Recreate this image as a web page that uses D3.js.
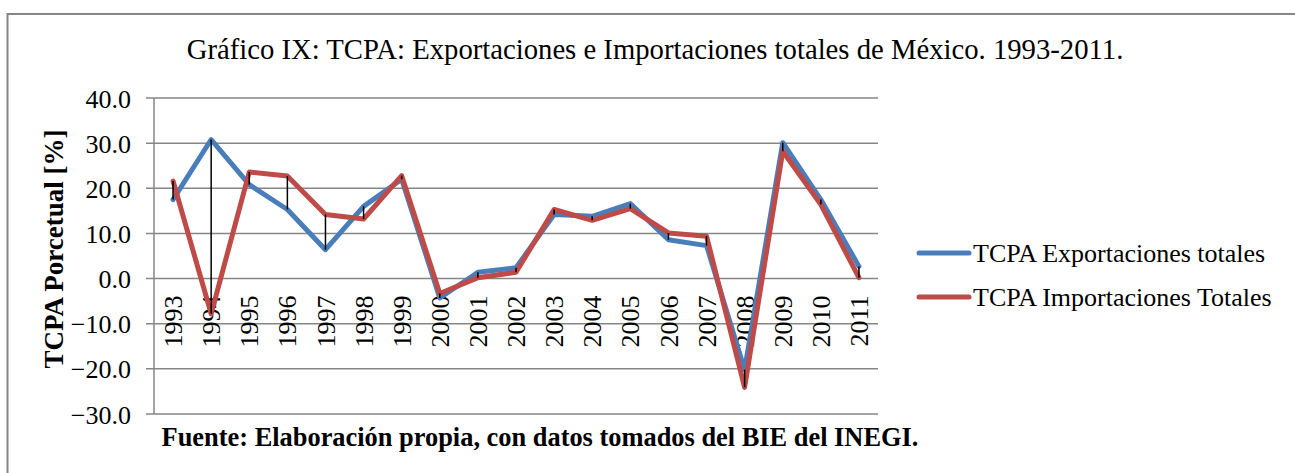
<!DOCTYPE html>
<html lang="es">
<head>
  <meta charset="UTF-8">
  <title>TCPA Exportaciones e Importaciones</title>
  <script src="https://d3js.org/d3.v7.min.js"></script>
  <style>
    body {
      margin: 0;
      background: #fff;
      font-family: "Liberation Serif", "Times New Roman", serif;
    }
    svg { display: block; }
    .grid line { stroke: #868686; stroke-width: 1.5; }
    .axis text { font-size: 26px; fill: #000; }
  </style>
</head>
<body>
  <svg id="chart"></svg>
  <script>
    const years = ["1993", "1994", "1995", "1996", "1997", "1998", "1999", "2000", "2001", "2002",
      "2003", "2004", "2005", "2006", "2007", "2008", "2009", "2010", "2011"];
    const exportaciones = [17.5, 30.8, 20.8, 15.3, 6.4, 16.0, 22.0, -4.3, 1.4, 2.4,
      14.2, 13.8, 16.6, 8.6, 7.3, -20.2, 30.1, 17.5, 2.7];
    const importaciones = [21.6, -7.8, 23.6, 22.7, 14.2, 13.2, 22.8, -3.3, 0.2, 1.4,
      15.3, 12.9, 15.5, 10.1, 9.4, -24.1, 28.2, 16.4, 0.2];
    const yTicks = [40, 30, 20, 10, 0, -10, -20, -30];
    const seriesNames = ["TCPA Exportaciones totales", "TCPA Importaciones Totales"];
    const seriesColors = ["#4a7ebb", "#be4b48"];

    const width = 1295;
    const height = 473;
    const plot = { left: 154, right: 878, top: 98, bottom: 414 };

    const svg = d3.select("#chart")
      .attr("width", width)
      .attr("height", height);

    // outer frame (only top and left visible)
    svg.append("rect")
      .attr("x", 7.5).attr("y", 14)
      .attr("width", 1400).attr("height", 600)
      .attr("fill", "none")
      .attr("stroke", "#868686")
      .attr("stroke-width", 2);

    const x = d3.scaleBand().domain(years).range([plot.left, plot.right]);
    const y = d3.scaleLinear().domain([-30, 40]).range([plot.bottom, plot.top]);

    // grid lines + ticks
    svg.append("g")
      .attr("class", "grid")
      .selectAll("line")
      .data(yTicks)
      .join("line")
      .attr("x1", plot.left - 8)
      .attr("x2", plot.right)
      .attr("y1", d => y(d))
      .attr("y2", d => y(d));

    svg.append("line")
      .attr("x1", plot.left).attr("x2", plot.left)
      .attr("y1", plot.top).attr("y2", plot.bottom)
      .attr("stroke", "#868686")
      .attr("stroke-width", 1.5);

    // y axis labels
    const yAxis = d3.axisLeft(y)
      .tickValues(yTicks)
      .tickFormat(d3.format(".1f"))
      .tickSize(0)
      .tickPadding(23);
    svg.append("g")
      .attr("class", "axis")
      .attr("transform", `translate(${plot.left},0)`)
      .call(yAxis)
      .call(g => g.select(".domain").remove())
      .selectAll("text")
      .attr("font-family", "Liberation Serif, Times New Roman, serif")
      .attr("dy", "0.35em");

    // category labels at zero line
    svg.append("g")
      .selectAll("text")
      .data(years)
      .join("text")
      .attr("transform", d => `translate(${x(d) + x.bandwidth() / 2},${y(0) + 17}) rotate(-90)`)
      .attr("dy", "0.35em")
      .attr("text-anchor", "end")
      .attr("font-size", 26)
      .text(d => d);

    const cx = d => x(d) + x.bandwidth() / 2;

    // series lines
    const line = d3.line()
      .x((d, i) => cx(years[i]))
      .y(d => y(d));

    [exportaciones, importaciones].forEach((vals, k) => {
      svg.append("path")
        .datum(vals)
        .attr("d", line)
        .attr("fill", "none")
        .attr("stroke", seriesColors[k])
        .attr("stroke-width", 5)
        .attr("stroke-linejoin", "round")
        .attr("stroke-linecap", "round");
    });

    // high-low lines
    svg.append("g")
      .selectAll("line")
      .data(years)
      .join("line")
      .attr("x1", d => cx(d))
      .attr("x2", d => cx(d))
      .attr("y1", (d, i) => y(Math.max(exportaciones[i], importaciones[i])))
      .attr("y2", (d, i) => y(Math.min(exportaciones[i], importaciones[i])))
      .attr("stroke", "#000")
      .attr("stroke-width", 1.5);

    // title
    svg.append("text")
      .attr("x", 655).attr("y", 59)
      .attr("text-anchor", "middle")
      .attr("font-size", 28.7)
      .text("Gráfico IX: TCPA: Exportaciones e Importaciones totales de México. 1993-2011.");

    // y axis title
    svg.append("text")
      .attr("transform", "translate(63,249) rotate(-90)")
      .attr("text-anchor", "middle")
      .attr("font-size", 27)
      .attr("font-weight", "bold")
      .text("TCPA Porcetual [%]");

    // source note
    svg.append("text")
      .attr("x", 540).attr("y", 446)
      .attr("text-anchor", "middle")
      .attr("font-size", 26.4)
      .attr("font-weight", "bold")
      .text("Fuente: Elaboración propia, con datos tomados del BIE del INEGI.");

    // legend
    const legend = svg.append("g")
      .selectAll("g")
      .data(seriesNames)
      .join("g")
      .attr("transform", (d, i) => `translate(917,${253 + i * 44})`);
    legend.append("line")
      .attr("x1", 2).attr("x2", 52)
      .attr("stroke", (d, i) => seriesColors[i])
      .attr("stroke-width", 5)
      .attr("stroke-linecap", "round");
    legend.append("text")
      .attr("x", 56)
      .attr("dy", "0.35em")
      .attr("font-size", 26)
      .text(d => d);
  </script>
</body>
</html>
